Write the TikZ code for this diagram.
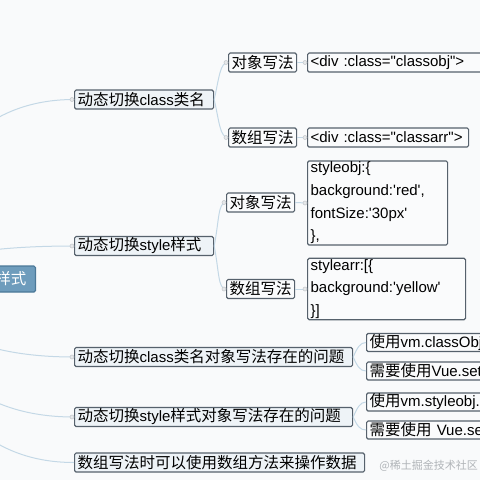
\documentclass[tikz,border=0pt]{standalone}
\usepackage{fontspec}
\setmainfont{Noto Sans CJK SC}
\newfontfamily\enfont{Liberation Sans}
\usepackage{tikz}
\usetikzlibrary{calc}

\definecolor{paper}{HTML}{F9FAFB}
\definecolor{rootfill}{HTML}{6E9CBC}
\definecolor{rootline}{HTML}{4B7898}
\definecolor{topicfill}{HTML}{EEF3F7}
\definecolor{leaffill}{HTML}{FAFBFC}
\definecolor{boxline}{HTML}{56616C}
\definecolor{branchcol}{HTML}{C4D8E6}
\definecolor{knobfill}{HTML}{E6E8EA}
\definecolor{knobline}{HTML}{C6CACE}
\definecolor{wmgray}{HTML}{B0B4B8}

\newcommand{\mapfont}{\fontsize{15.5pt}{23pt}\selectfont}
\newcommand{\en}[1]{{\enfont\fontsize{15pt}{23pt}\selectfont #1}}
\newcommand{\sq}{\textquotesingle}
\newcommand{\dq}{\textquotedbl}

\tikzset{
  topic/.style={draw=boxline, fill=topicfill, line width=1.2pt, rounded corners=1.5pt,
    inner xsep=3pt, inner ysep=1pt, minimum height=19pt, anchor=west, align=left, font=\mapfont},
  leaf/.style={topic, fill=leaffill},
  code/.style={leaf, font=\enfont\fontsize{15pt}{22.7pt}\selectfont},
  rootbox/.style={draw=rootline, fill=rootfill, text=white, line width=1.2pt, rounded corners=1.5pt,
    inner xsep=9pt, minimum height=26pt, text width=70pt, align=right, anchor=east, font=\mapfont},
  branch/.style={draw=branchcol, line width=1pt},
  knob/.style={draw=knobline, fill=knobfill, line width=0.6pt},
  wmark/.style={text=wmgray, font=\fontsize{11pt}{12pt}\selectfont, anchor=east, inner sep=0pt}
}

\begin{document}
\begin{tikzpicture}[x=1pt, y=-1pt]
\useasboundingbox (0,0) rectangle (480,480);
\fill[paper] (0,0) rectangle (480,480);
\clip (0,0) rectangle (480,480);
\coordinate (hub) at (-100,279);
% main topics
\node[topic, text width=133pt] (cls) at (74,99.5) {动态切换\en{class}类名};
\node[topic, text width=133pt] (sty) at (74,246) {动态切换\en{style}样式};
\node[topic, text width=272pt] (clsq) at (74,357) {动态切换\en{class}类名对象写法存在的问题};
\node[topic, text width=272pt] (styq) at (74,417) {动态切换\en{style}样式对象写法存在的问题};
\node[topic, text width=284pt] (arrop) at (74,462.5) {数组写法时可以使用数组方法来操作数据};
% class branch
\node[leaf, text width=62pt] (clsobj) at (228,62.5) {对象写法};
\node[leaf, text width=62pt] (clsarr) at (228,137.5) {数组写法};
\node[code, text width=200pt] (clsobjc) at (307,62.5) {<div :class=\dq classobj\dq>};
\node[code, text width=155pt] (clsarrc) at (307,137.5) {<div :class=\dq classarr\dq>};
% style branch
\node[leaf, text width=62pt] (styobj) at (226,202.5) {对象写法};
\node[leaf, text width=62pt] (styarr) at (226,289) {数组写法};
\node[code, text width=134pt] (styobjc) at (307,203)
  {styleobj:\{\\background:\sq red\sq,\\fontSize:\sq 30px\sq\\\},};
\node[code, text width=152pt] (styarrc) at (307,289)
  {stylearr:[\{\\background:\sq yellow\sq\\\}]};
% problems
\node[leaf, text width=140pt, minimum height=18pt] (clsq1) at (366,342.5) {使用\en{vm.classObj}};
\node[leaf, text width=140pt, minimum height=18pt] (clsq2) at (366,371) {需要使用\en{Vue.set}};
\node[leaf, text width=140pt, minimum height=18pt] (styq1) at (366,402) {使用\en{vm.styleobj.}};
\node[leaf, text width=140pt, minimum height=18pt] (styq2) at (366,430) {需要使用\en{ Vue.set}};
% connectors from the root
\foreach \t/\y in {cls/99.5, sty/246, clsq/357, styq/417, arrop/462.5}
  \draw[branch] (hub) .. controls (-73.3,{(279+2*\y)/3}) and (-16,\y) .. (\t.west);
% brackets
\draw[branch] (cls.east) .. controls +(5,-22) and +(-8,0) .. (clsobj.west);
\draw[branch] (cls.east) .. controls +(5,22) and +(-8,0) .. (clsarr.west);
\draw[branch] (sty.east) .. controls +(5,-26) and +(-8,0) .. (styobj.west);
\draw[branch] (sty.east) .. controls +(5,26) and +(-8,0) .. (styarr.west);
\draw[branch] (clsq.east) .. controls +(4,-9) and +(-6,0) .. (clsq1.west);
\draw[branch] (clsq.east) .. controls +(4,9) and +(-6,0) .. (clsq2.west);
\draw[branch] (styq.east) .. controls +(4,-9) and +(-6,0) .. (styq1.west);
\draw[branch] (styq.east) .. controls +(4,9) and +(-6,0) .. (styq2.west);
\draw[branch] (clsobj.east) -- (clsobjc.west);
\draw[branch] (clsarr.east) -- (clsarrc.west);
\draw[branch] (styobj.east) -- (styobjc.west);
\draw[branch] (styarr.east) -- (styarrc.west);
% knobs
\foreach \t in {cls, sty, clsq, styq, clsobj, clsarr, styobj, styarr, clsobjc, clsarrc, styobjc, styarrc}
  \draw[knob] ($(\t.west)+(-2,0)$) circle (2);
% root
\node[rootbox] (root) at (36,279) {样式};
\node[wmark] (wm) at (478,466) {@稀土掘金技术社区};
\end{tikzpicture}
\end{document}
